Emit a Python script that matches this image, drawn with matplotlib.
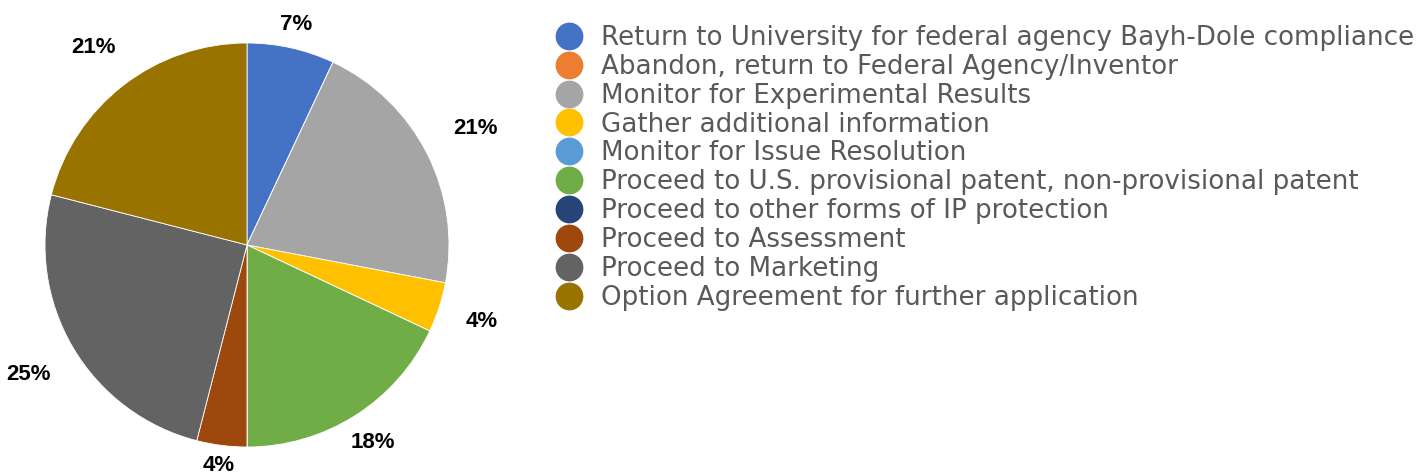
import numpy as np
import matplotlib
matplotlib.use("Agg")
import matplotlib.pyplot as plt
from matplotlib.lines import Line2D

categories = [
    "Return to University for federal agency Bayh-Dole compliance",
    "Abandon, return to Federal Agency/Inventor",
    "Monitor for Experimental Results",
    "Gather additional information",
    "Monitor for Issue Resolution",
    "Proceed to U.S. provisional patent, non-provisional patent",
    "Proceed to other forms of IP protection",
    "Proceed to Assessment",
    "Proceed to Marketing",
    "Option Agreement for further application",
]
values = [7, 0, 21, 4, 0, 18, 0, 4, 25, 21]
colors = ["#4472C4", "#ED7D31", "#A5A5A5", "#FFC000", "#5B9BD5",
          "#70AD47", "#264478", "#9E480E", "#636363", "#997300"]
# radial distance of each percentage label (in pie radii), style only
label_dist = [1.12, 1.2, 1.27, 1.22, 1.2, 1.16, 1.2, 1.10, 1.255, 1.24]

W, H = 1419, 475
fig = plt.figure(figsize=(W / 100, H / 100), dpi=100)
fig.patch.set_facecolor("white")

cx, cy, r = 247, 245, 202
ax = fig.add_axes([(cx - r) / W, (H - cy - r) / H, 2 * r / W, 2 * r / H])


def fmt(p):
    return "" if p < 0.5 else f"{p:.0f}%"


wedges, texts, autotexts = ax.pie(
    values, colors=colors, startangle=90, counterclock=False,
    autopct=fmt, pctdistance=1.2, radius=1,
    wedgeprops=dict(linewidth=0.6, edgecolor="white"),
    textprops=dict(fontsize=16, fontweight="bold", color="black",
                   family="Liberation Sans"),
)
for w, t, d in zip(wedges, autotexts, label_dist):
    ang = np.deg2rad((w.theta1 + w.theta2) / 2)
    t.set_position((d * np.cos(ang), d * np.sin(ang)))
    t.set_ha("center")
    t.set_va("center")

ax.set_xlim(-1, 1)
ax.set_ylim(-1, 1)
ax.set_aspect("equal")
ax.axis("off")

handles = [Line2D([0], [0], marker="o", linestyle="none", markersize=19,
                  markerfacecolor=c, markeredgecolor=c) for c in colors]
fig.legend(handles, categories, loc="upper left",
           bbox_to_anchor=(555 / W, 1 - 25 / H), frameon=False,
           prop=dict(family="DejaVu Sans", size=18.8),
           labelcolor="#595959", labelspacing=0.11, handletextpad=0.65,
           handlelength=1.1, borderaxespad=0, borderpad=0)

fig.savefig("out.png", dpi=100, facecolor="white")
